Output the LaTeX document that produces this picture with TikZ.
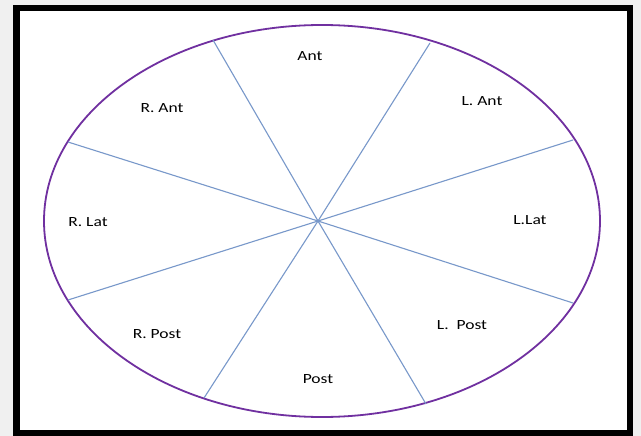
\documentclass[tikz,border=0pt]{standalone}
\usepackage{fontspec}
\setmainfont{Carlito}
\definecolor{rim}{RGB}{112,48,160}
\definecolor{spoke}{RGB}{120,152,202}
\tikzset{
  sector/.style={font=\fontsize{14}{16}\selectfont, inner sep=1pt},
  spokeline/.style={draw=spoke, line width=1.1pt}
}
\newcommand{\wide}[1]{\scalebox{1.25}[1]{#1}}
\begin{document}
\begin{tikzpicture}[x=1pt, y=-1pt]
		\useasboundingbox (0,0) rectangle (641,436);
		\fill[gray!12] (0,0) rectangle (641,436);
		\draw[line width=6.5pt, fill=white] (16.5,8) rectangle (630,433);
		\draw[rim, line width=1.8pt] (322,221) ellipse [x radius=278, y radius=196];
		\coordinate (C) at (318,221);
		% ends of the spokes on the rim
		\coordinate (AntL) at (213,40);
		\coordinate (AntR) at (430,43);
		\coordinate (LatLU) at (68,142);
		\coordinate (LatRU) at (573,140);
		\coordinate (LatLD) at (68,300);
		\coordinate (LatRD) at (573,303);
		\coordinate (PostL) at (204,398);
		\coordinate (PostR) at (426,404);
		\foreach \e in {AntL,AntR,LatLU,LatRU,LatLD,LatRD,PostL,PostR}
			\draw[spokeline] (C) -- (\e);
		% sector labels
		\node[sector] (ant) at (310,56) {\wide{Ant}};
		\node[sector] (rant) at (162,108) {\wide{R. Ant}};
		\node[sector] (lant) at (482,101) {\wide{L. Ant}};
		\node[sector] (rlat) at (88,222) {\wide{R. Lat}};
		\node[sector] (llat) at (530,220) {\wide{L.Lat}};
		\node[sector] (rpost) at (157,334) {\wide{R. Post}};
		\node[sector] (lpost) at (462,325) {\wide{L.~ Post}};
		\node[sector] (post) at (318,379) {\wide{Post}};
	\end{tikzpicture}
\end{document}
